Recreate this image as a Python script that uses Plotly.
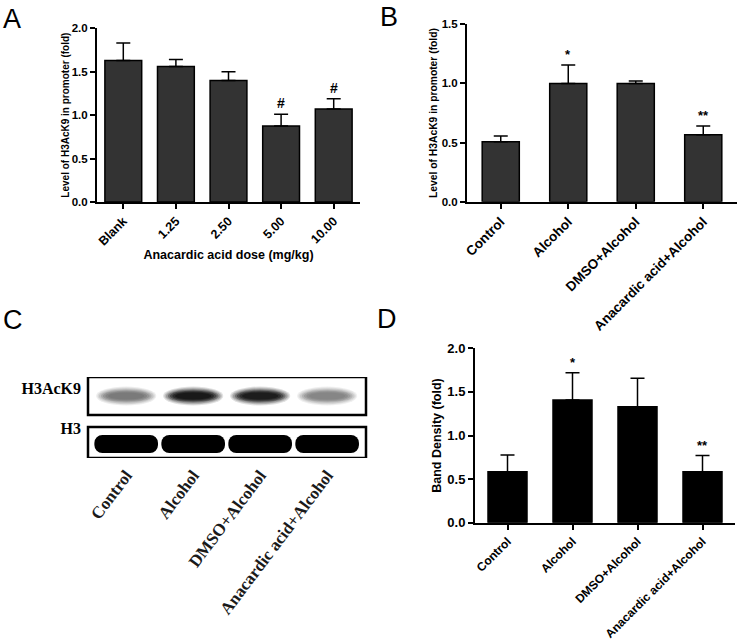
import plotly.graph_objects as go

# A: ChIP of H3AcK9 at the promoter, anacardic acid dose series
doses = ["Blank", "1.25", "2.50", "5.00", "10.00"]
a_mean = [1.63, 1.56, 1.40, 0.875, 1.07]
a_err = [0.20, 0.08, 0.10, 0.135, 0.12]
a_marks = ["", "", "", "#", "#"]

# B: same readout, treatment groups
groups = ["Control", "Alcohol", "DMSO+Alcohol", "Anacardic acid+Alcohol"]
b_mean = [0.507, 1.0, 1.0, 0.566]
b_err = [0.048, 0.155, 0.02, 0.074]
b_marks = ["", "*", "", "**"]

# C: western blot, band darkness per lane (0 = empty, 1 = saturated)
blot_rows = ["H3", "H3AcK9"]
ack9_band = [0.55, 0.95, 0.93, 0.5]
h3_band = [1.0, 1.0, 1.0, 1.0]

# D: blot densitometry
d_mean = [0.585, 1.407, 1.33, 0.585]
d_err = [0.19, 0.313, 0.326, 0.185]
d_marks = ["", "*", "", "**"]

SANS = "Liberation Sans, Arial, sans-serif"
SERIF = "Liberation Serif, Times New Roman, serif"
W, H = 741, 642


def px_x(a, b):
    return [a / W, b / W]


def px_y(top, bottom):
    return [1 - bottom / H, 1 - top / H]


def gray(v):
    g = int(round(255 * (1 - v)))
    return f"rgb({g},{g},{g})"


def bar_trace(cats, mean, err, fill, width, ax):
    return go.Bar(
        x=cats, y=mean, width=width, xaxis="x" + ax, yaxis="y" + ax,
        marker=dict(color=fill, line=dict(color="black", width=1.5)),
        error_y=dict(type="data", symmetric=False, array=err,
                     arrayminus=[0] * len(err), color="black",
                     thickness=1.5, width=7),
        hoverinfo="x+y",
    )


def bar_xaxis(dom, n, size, anchor):
    return dict(domain=dom, anchor=anchor, type="category", range=[-0.5, n - 0.5],
                automargin=False,
                showline=True, linecolor="black", linewidth=2,
                ticks="outside", ticklen=5, tickwidth=1.5, tickcolor="black",
                tickangle=-45, showgrid=False, zeroline=False,
                tickfont=dict(family=SANS, size=size, color="black", weight="bold"))


def bar_yaxis(dom, top, size, anchor, title, tsize, standoff):
    return dict(domain=dom, anchor=anchor, range=[0, top], dtick=0.5,
                automargin=False,
                tickformat=".1f", showline=True, linecolor="black", linewidth=2,
                ticks="outside", ticklen=5, tickwidth=1.5, tickcolor="black",
                showgrid=False, zeroline=False,
                tickfont=dict(family=SANS, size=size, color="black", weight="bold"),
                title=dict(text=title, standoff=standoff,
                           font=dict(family=SANS, size=tsize, color="black", weight="bold")))


fig = go.Figure()
fig.add_trace(bar_trace(doses, a_mean, a_err, "#333333", 0.7, ""))
fig.add_trace(bar_trace(groups, b_mean, b_err, "#333333", 0.55, "2"))
fig.add_trace(bar_trace(groups, d_mean, d_err, "#000000", 0.6, "4"))

# H3 loading-control bands: solid, domed on top
fig.add_trace(go.Bar(
    x=groups, y=[18] * len(groups), base=[5] * len(groups), width=0.95,
    xaxis="x3", yaxis="y3",
    marker=dict(color=[gray(v) for v in h3_band], cornerradius=8, line=dict(width=0)),
    hoverinfo="x",
))

shapes = []
# H3AcK9 bands: soft ellipses, stacked with falling opacity to fake the blur
blur = [(0.45, 9.5, 0.12), (0.43, 8.5, 0.15), (0.41, 7.5, 0.2), (0.38, 6.5, 0.3),
        (0.35, 5.5, 0.4), (0.31, 4.5, 0.5), (0.27, 3.5, 0.6)]
for i, v in enumerate(ack9_band):
    for hw, hh, op in blur:
        shapes.append(dict(type="circle", xref="x3", yref="y3",
                           x0=i - hw, x1=i + hw, y0=62 - hh, y1=62 + hh,
                           fillcolor=gray(v), opacity=op, line=dict(width=0),
                           layer="above"))
for y0, y1 in [(0, 31), (43, 81)]:
    shapes.append(dict(type="rect", xref="x3 domain", yref="y3", x0=0, x1=1,
                       y0=y0, y1=y1, line=dict(color="black", width=2.5),
                       layer="above"))

annotations = []
for mean, err, marks, ax, size in [
    (a_mean, a_err, a_marks, "", 14),
    (b_mean, b_err, b_marks, "2", 13),
    (d_mean, d_err, d_marks, "4", 13),
]:
    for i, (m, e, t) in enumerate(zip(mean, err, marks)):
        if t:
            annotations.append(dict(x=i, y=m + e, xref="x" + ax, yref="y" + ax,
                                    text=t, showarrow=False, yanchor="bottom",
                                    yshift=1, font=dict(family=SANS, size=size,
                                                        color="black", weight="bold")))

for letter, x, y in [("A", 1, 2), ("B", 378, 0), ("C", 1, 303), ("D", 375, 302)]:
    annotations.append(dict(x=x / W, y=1 - y / H, xref="paper", yref="paper",
                            xanchor="left", yanchor="top", text=letter,
                            showarrow=False, font=dict(family=SANS, size=27, color="black")))

fig.update_layout(
    width=W, height=H, margin=dict(l=0, r=0, t=0, b=0),
    paper_bgcolor="white", plot_bgcolor="white",
    showlegend=False, barmode="overlay",
    xaxis=dict(bar_xaxis(px_x(97, 360), len(doses), 12.5, "y"),
               title=dict(text="Anacardic acid dose (mg/kg)", standoff=3,
                          font=dict(family=SANS, size=12.5, color="black", weight="bold"))),
    yaxis=bar_yaxis(px_y(28.3, 202), 2.0, 11.5, "x",
                    "Level of H3AcK9 in promoter (fold)", 10, 0),
    xaxis2=bar_xaxis(px_x(467, 737), len(groups), 13.5, "y2"),
    yaxis2=bar_yaxis(px_y(24.3, 201.7), 1.5, 11.5, "x2",
                     "Level of H3AcK9 in promoter (fold)", 10.3, 2),
    xaxis3=dict(domain=px_x(88, 366), anchor="y3", type="category",
                categoryorder="array", categoryarray=groups, automargin=False,
                range=[-0.57, 3.58], showline=False, ticks="", tickangle=-53,
                showgrid=False, zeroline=False, ticklabelstandoff=3,
                tickfont=dict(family=SERIF, size=17, color="#1a1a1a", weight="bold")),
    yaxis3=dict(domain=px_y(377, 458), anchor="x3", range=[0, 81], automargin=False,
                tickvals=[30, 70], ticktext=blot_rows, ticks="",
                showline=False, showgrid=False, zeroline=False, ticklabelstandoff=6,
                tickfont=dict(family=SERIF, size=16, color="black", weight="bold")),
    xaxis4=bar_xaxis(px_x(475, 735), len(groups), 12, "y4"),
    yaxis4=bar_yaxis(px_y(348.3, 522.7), 2.0, 13, "x4", "Band Density (fold)", 12.5, 3),
    shapes=shapes,
    annotations=annotations,
)

# the page body has a default 8px margin; drop it so the figure sits at the corner
fig.write_html("out.html", config={"displayModeBar": False},
               post_script="document.body.style.margin = '0';")
